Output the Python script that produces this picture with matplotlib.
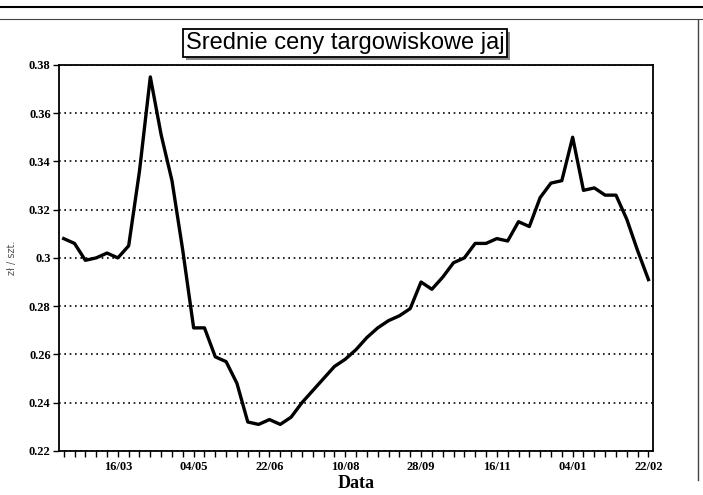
import pandas as pd
import numpy as np
import matplotlib
matplotlib.use('Agg')
import matplotlib.pyplot as plt
from matplotlib.lines import Line2D
from matplotlib import patheffects

# weekly market prices of eggs (zl / szt.)
start_date = '1994-02-09'
prices = [0.308, 0.306, 0.299, 0.300, 0.302, 0.300, 0.305, 0.336, 0.375, 0.351,
          0.332, 0.303, 0.271, 0.271, 0.259, 0.257, 0.248, 0.232, 0.231, 0.233,
          0.231, 0.234, 0.240, 0.245, 0.250, 0.255, 0.258, 0.262, 0.267, 0.271,
          0.274, 0.276, 0.279, 0.290, 0.287, 0.292, 0.298, 0.300, 0.306, 0.306,
          0.308, 0.307, 0.315, 0.313, 0.325, 0.331, 0.332, 0.350, 0.328, 0.329,
          0.326, 0.326, 0.316, 0.303, 0.291]
yticks = [0.22, 0.24, 0.26, 0.28, 0.3, 0.32, 0.34, 0.36, 0.38]
title = 'Srednie ceny targowiskowe jaj'
xlabel = 'Data'
ylabel = 'zł / szt.'

dates = pd.date_range(start_date, periods=len(prices), freq='7D')
df = pd.DataFrame({'data': dates, 'cena': prices})

fig = plt.figure(figsize=(7.03, 4.95), dpi=100)
ax = fig.add_axes([0.084, 0.089, 0.845, 0.78])

ax.plot(df['data'], df['cena'], color='black', linewidth=2.4, solid_joinstyle='round')

ax.set_xlim(df['data'].iloc[0] - pd.Timedelta(days=3), df['data'].iloc[-1] + pd.Timedelta(days=3))
ax.set_ylim(0.22, 0.38)

# y axis
ax.set_yticks(yticks)
ax.set_yticklabels([f'{v:g}' for v in yticks], fontfamily='Liberation Serif',
                   fontweight='bold', fontsize=9)
ax.yaxis.grid(True, linestyle=(0, (1, 2.2)), color='black', linewidth=1.2)
ax.set_axisbelow(True)

# x axis: weekly ticks, label every 7th week
ax.set_xticks(df['data'])
labels = [d.strftime('%d/%m') if (i - 5) % 7 == 0 and i >= 5 else '' for i, d in enumerate(df['data'])]
ax.set_xticklabels(labels, fontfamily='Liberation Serif', fontweight='bold', fontsize=9)
ax.tick_params(axis='x', length=4, width=1, direction='out', pad=3)
ax.tick_params(axis='y', length=4, width=1, direction='out', pad=2)

for s in ax.spines.values():
    s.set_linewidth(1.3)

ax.set_xlabel(xlabel, fontfamily='Liberation Serif', fontweight='bold', fontsize=13, labelpad=2)
ax.set_ylabel(ylabel, fontsize=7, color='#555555')
ax.yaxis.set_label_coords(-0.07, 0.5)

t = fig.text(0.491, 0.913, title, ha='center', va='center', fontsize=17,
             fontfamily='Liberation Sans',
             bbox=dict(boxstyle='square,pad=0.12', facecolor='white', edgecolor='black', linewidth=1.3))
t.get_bbox_patch().set_path_effects([patheffects.SimplePatchShadow(offset=(2, -2), shadow_rgbFace='#888888', alpha=1),
                                     patheffects.Normal()])

# page border lines from the scanned page
fig.add_artist(Line2D([0.0, 1.0], [0.985, 0.985], color='black', linewidth=1.5))
fig.add_artist(Line2D([0.0, 1.0], [0.962, 0.962], color='#444444', linewidth=0.8))
fig.add_artist(Line2D([0.993, 0.993], [0.03, 0.96], color='#444444', linewidth=1.0))

plt.savefig('out.png', dpi=100)
plt.close()
